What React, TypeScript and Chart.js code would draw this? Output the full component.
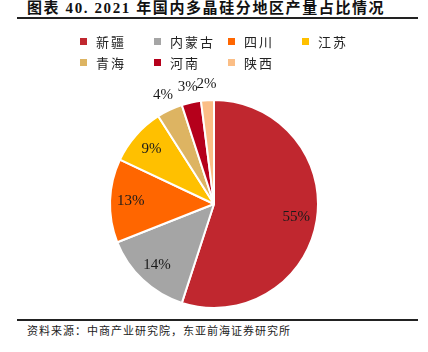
import React, { useEffect, useRef } from "react";
import { Chart, registerables } from "chart.js";

Chart.register(...registerables);

const categories = ["新疆", "内蒙古", "四川", "江苏", "青海", "河南", "陕西"];
const shares = [55, 14, 13, 9, 4, 3, 2];
const colors = ["#C0272F", "#A5A5A5", "#FF6600", "#FFC000", "#DDB462", "#B5001B", "#FBBE86"];
const titleText = "图表 40. 2021 年国内多晶硅分地区产量占比情况";
const sourceText = "资料来源：中商产业研究院，东亚前海证券研究所";

const labelPlugin = {
  id: "pctLabels",
  afterDatasetsDraw(chart: any) {
    const ctx = chart.ctx;
    const meta = chart.getDatasetMeta(0);
    const data = chart.data.datasets[0].data as number[];
    ctx.save();
    ctx.font = '15px "Liberation Serif", "Times New Roman", serif';
    ctx.fillStyle = "#1a1a1a";
    ctx.textAlign = "center";
    ctx.textBaseline = "middle";
    meta.data.forEach((arc: any, i: number) => {
      const p = arc.getProps(["x", "y", "startAngle", "endAngle", "outerRadius"], true);
      const mid = (p.startAngle + p.endAngle) / 2;
      const v = data[i];
      const r = v >= 5 ? p.outerRadius * 0.8 : p.outerRadius + 16;
      const x = p.x + Math.cos(mid) * r;
      const y = p.y + Math.sin(mid) * r;
      ctx.fillText(v + "%", x, y);
    });
    ctx.restore();
  },
};

export default function App() {
  const ref = useRef<HTMLCanvasElement | null>(null);

  useEffect(() => {
    document.body.style.margin = "0";
    if (!ref.current) return;
    const chart = new Chart(ref.current, {
      type: "pie",
      data: {
        labels: categories,
        datasets: [
          {
            data: shares,
            backgroundColor: colors,
            borderColor: "#ffffff",
            borderWidth: 2,
            hoverOffset: 0,
          },
        ],
      },
      options: {
        animation: false,
        responsive: false,
        maintainAspectRatio: false,
        layout: { padding: { top: 79, bottom: 9, left: 0, right: 0 } },
        plugins: {
          legend: { display: false },
          tooltip: { enabled: false },
        },
      },
      plugins: [labelPlugin],
    });
    return () => chart.destroy();
  }, []);

  const cjk = '"Noto Sans CJK SC", "Liberation Serif", serif';

  return (
    <div style={{ position: "relative", width: 428, height: 352, background: "#fff", overflow: "hidden" }}>
      <div
        style={{
          position: "absolute",
          left: 27,
          top: -1,
          fontFamily: '"Liberation Serif", "Noto Sans CJK SC", serif',
          fontWeight: "bold",
          fontSize: 15,
          lineHeight: "18px",
          color: "#111",
          whiteSpace: "nowrap",
          letterSpacing: 1.6,
        }}
      >
        {titleText}
      </div>
      <div style={{ position: "absolute", left: 17, top: 17, width: 401, height: 2, background: "#222" }} />
      <canvas ref={ref} width={428} height={298} style={{ position: "absolute", left: 0, top: 20 }} />
      <div
        style={{
          position: "absolute",
          left: 80,
          top: 31,
          display: "grid",
          gridTemplateColumns: "repeat(4, 74px)",
          gridAutoRows: "21px",
          fontFamily: cjk,
          fontSize: 13,
          color: "#222",
        }}
      >
        {categories.map((c, i) => (
          <div key={c} style={{ display: "flex", alignItems: "center", whiteSpace: "nowrap" }}>
            <span style={{ display: "inline-block", width: 7, height: 7, background: colors[i], marginRight: 9 }} />
            <span style={{ letterSpacing: 2 }}>{c}</span>
          </div>
        ))}
      </div>
      <div style={{ position: "absolute", left: 17, top: 319, width: 401, height: 2, background: "#222" }} />
      <div
        style={{
          position: "absolute",
          left: 27,
          top: 322,
          fontFamily: cjk,
          fontSize: 11,
          lineHeight: "16px",
          color: "#222",
          whiteSpace: "nowrap",
          letterSpacing: 1,
        }}
      >
        {sourceText}
      </div>
    </div>
  );
}
